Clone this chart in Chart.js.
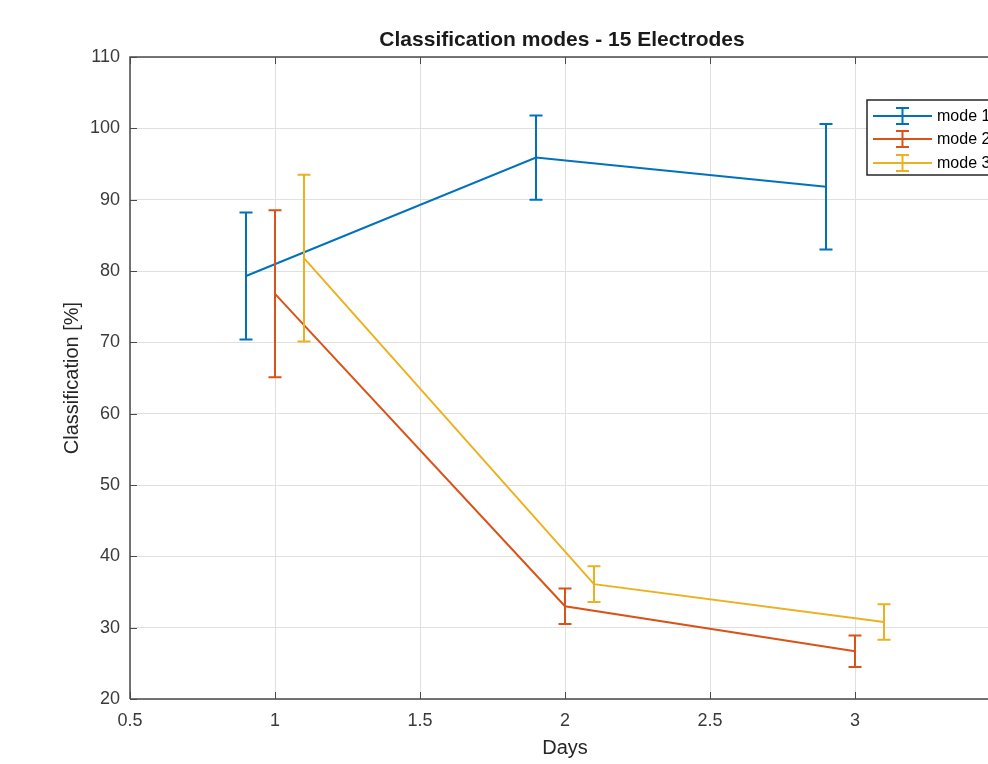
<!DOCTYPE html>
<html><head><meta charset="utf-8">
<script src="https://cdn.jsdelivr.net/npm/chart.js@4.4.0/dist/chart.umd.min.js"></script>
<style>
html,body{margin:0;padding:0;background:#fff;overflow:hidden;width:988px;height:764px}
#wrap{position:relative;width:1040px;height:764px}
</style></head>
<body><div id="wrap"><canvas id="c" width="1040" height="764"></canvas></div>
<script>
const chartTitle = 'Classification modes - 15 Electrodes';
const xLabel = 'Days';
const yLabel = 'Classification [%]';
const days = [1, 2, 3];
const seriesNames = ['mode 1', 'mode 2', 'mode 3'];
const seriesOffsets = [-0.1, 0, 0.1];
const mode1Mean = [79.3, 95.9, 91.8];
const mode1Err  = [8.9, 5.9, 8.8];
const mode2Mean = [76.8, 33.0, 26.7];
const mode2Err  = [11.7, 2.5, 2.2];
const mode3Mean = [81.8, 36.1, 30.8];
const mode3Err  = [11.7, 2.5, 2.5];
const colors = ['#0072BD', '#D95319', '#EDB120'];
const xTicks = [0.5, 1, 1.5, 2, 2.5, 3, 3.5];
const yTicks = [20, 30, 40, 50, 60, 70, 80, 90, 100, 110];

const means = [mode1Mean, mode2Mean, mode3Mean];
const errs = [mode1Err, mode2Err, mode3Err];

const datasets = means.map((m, i) => ({
  label: seriesNames[i],
  data: days.map((d, j) => ({x: d + seriesOffsets[i], y: m[j]})),
  borderColor: colors[i],
  backgroundColor: colors[i],
  borderWidth: 2,
  pointRadius: 0,
  tension: 0,
  errs: errs[i]
}));

const FONT = '"Liberation Sans", Arial, Helvetica, sans-serif';
const AXIS = '#4a4a4a';

const deco = {
  id: 'deco',
  afterDatasetsDraw(chart) {
    const {ctx, scales: {x, y}} = chart;
    ctx.save();
    chart.data.datasets.forEach(ds => {
      ctx.strokeStyle = ds.borderColor;
      ctx.lineWidth = 2;
      ds.data.forEach((p, j) => {
        const px = x.getPixelForValue(p.x);
        const top = y.getPixelForValue(p.y + ds.errs[j]);
        const bot = y.getPixelForValue(p.y - ds.errs[j]);
        ctx.beginPath();
        ctx.moveTo(px, top); ctx.lineTo(px, bot);
        ctx.moveTo(px - 6.5, top); ctx.lineTo(px + 6.5, top);
        ctx.moveTo(px - 6.5, bot); ctx.lineTo(px + 6.5, bot);
        ctx.stroke();
      });
    });
    ctx.restore();
  },
  afterDraw(chart) {
    const {ctx, chartArea: a, scales: {x, y}} = chart;
    ctx.save();
    // axes box
    ctx.strokeStyle = AXIS;
    ctx.lineWidth = 1.5;
    ctx.beginPath();
    ctx.moveTo(a.left, a.bottom); ctx.lineTo(a.left, a.top); ctx.lineTo(a.right, a.top); ctx.lineTo(a.right, a.bottom); ctx.lineTo(a.left, a.bottom);
    ctx.stroke();
    // inward ticks
    ctx.lineWidth = 1;
    ctx.beginPath();
    xTicks.forEach(v => {
      const px = Math.round(x.getPixelForValue(v)) + 0.5;
      ctx.moveTo(px, a.bottom); ctx.lineTo(px, a.bottom - 7);
      ctx.moveTo(px, a.top); ctx.lineTo(px, a.top + 7);
    });
    yTicks.forEach(v => {
      const py = Math.round(y.getPixelForValue(v)) + 0.5;
      ctx.moveTo(a.left, py); ctx.lineTo(a.left + 7, py);
      ctx.moveTo(a.right, py); ctx.lineTo(a.right - 7, py);
    });
    ctx.stroke();
    // title
    ctx.fillStyle = '#1a1a1a';
    ctx.font = 'bold 21px ' + FONT;
    ctx.textAlign = 'center';
    ctx.textBaseline = 'middle';
    ctx.fillText(chartTitle, 562, 40);
    // legend
    const lx = 867, ly = 100, lh = 75;
    ctx.fillStyle = '#fff';
    ctx.fillRect(lx, ly, 160, lh);
    ctx.strokeStyle = '#262626';
    ctx.lineWidth = 1.5;
    ctx.strokeRect(lx, ly, 160, lh);
    const rows = [116, 139, 163];
    ctx.font = '16px ' + FONT;
    ctx.textAlign = 'left';
    seriesNames.forEach((n, i) => {
      const ry = rows[i];
      ctx.strokeStyle = colors[i];
      ctx.lineWidth = 2;
      ctx.beginPath();
      ctx.moveTo(873, ry); ctx.lineTo(932, ry);
      ctx.moveTo(902.5, ry - 8); ctx.lineTo(902.5, ry + 8);
      ctx.moveTo(896, ry - 8); ctx.lineTo(909, ry - 8);
      ctx.moveTo(896, ry + 8); ctx.lineTo(909, ry + 8);
      ctx.stroke();
      ctx.fillStyle = '#000';
      ctx.fillText(n, 937, ry + 1);
    });
    ctx.restore();
  }
};

new Chart(document.getElementById('c'), {
  type: 'line',
  data: {datasets},
  options: {
    responsive: false,
    animation: false,
    devicePixelRatio: 1,
    layout: {padding: {top: 57, right: 40, left: 0, bottom: 0}},
    plugins: {legend: {display: false}, tooltip: {enabled: false}, title: {display: false}},
    scales: {
      x: {
        type: 'linear', min: 0.5, max: 3.5,
        afterBuildTicks: s => { s.ticks = xTicks.map(v => ({value: v})); },
        afterFit: s => { s.height = 65; },
        grid: {color: '#e0e0e0', drawTicks: false, lineWidth: 1},
        border: {display: false},
        ticks: {padding: 11, color: '#3a3a3a', font: {size: 18, family: FONT}, maxRotation: 0, autoSkip: false,
                callback: v => String(v)},
        title: {display: true, text: xLabel, color: '#262626', font: {size: 20, family: FONT}, padding: {top: 0, bottom: 4}}
      },
      y: {
        type: 'linear', min: 20, max: 110,
        afterBuildTicks: s => { s.ticks = yTicks.map(v => ({value: v})); },
        afterFit: s => { s.width = 130; },
        grid: {color: '#e0e0e0', drawTicks: false, lineWidth: 1},
        border: {display: false},
        ticks: {padding: 10, color: '#3a3a3a', font: {size: 18, family: FONT}, autoSkip: false, callback: v => String(v)},
        title: {display: true, text: yLabel, color: '#262626', font: {size: 20, family: FONT}, padding: {top: 60, bottom: 0}}
      }
    }
  },
  plugins: [deco]
});
</script>
</body></html>
